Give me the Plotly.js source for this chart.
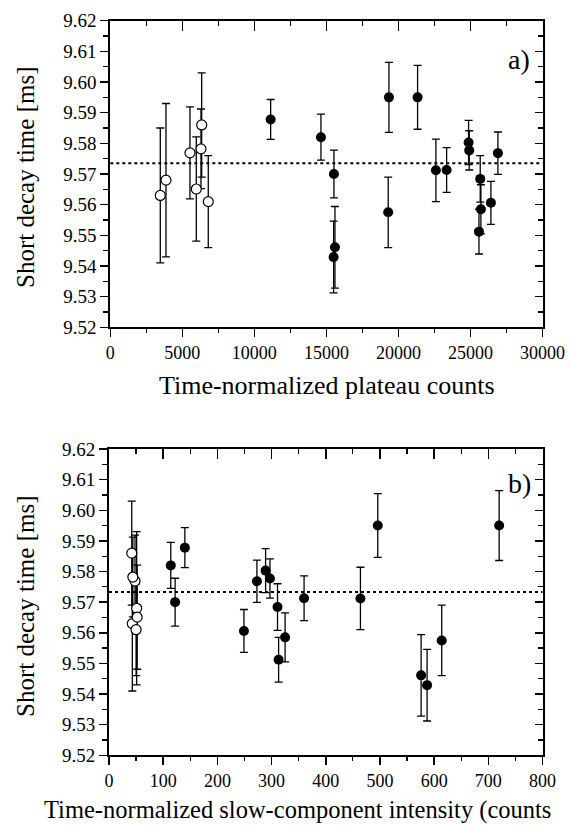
<!DOCTYPE html>
<html><head><meta charset="utf-8">
<script src="https://cdn.plot.ly/plotly-3.0.1.min.js"></script>
<style>html,body{margin:0;padding:0;background:#fff}#chart{width:572px;height:825px}</style>
</head><body><div id="chart"></div>
<script>
// ---- data ----
// open circles
const openPlateau = [3470, 3865, 5531, 5968, 6343, 6294, 6800];
const openSlow    = [43, 51, 48, 52, 42, 44, 50];
const openTau     = [9.5630, 9.5680, 9.5769, 9.5651, 9.5860, 9.5782, 9.5610];
const openErr     = [0.022, 0.025, 0.015, 0.017, 0.017, 0.013, 0.015];
// filled circles
const fillPlateau = [11131, 14622, 15524, 15594, 15500, 19340, 21330, 19290, 22600, 23345, 24870, 24914, 25677, 25725, 25590, 26420, 26905];
const fillSlow    = [140, 114, 122, 576, 587, 720, 496, 614, 464, 360, 289, 297, 311, 325, 313, 249, 273];
const fillTau     = [9.5878, 9.5820, 9.5700, 9.5461, 9.5429, 9.5950, 9.5950, 9.5575, 9.5712, 9.5713, 9.5803, 9.5777, 9.5684, 9.5585, 9.5512, 9.5606, 9.5768];
const fillErr     = [0.0065, 0.0075, 0.0078, 0.0133, 0.0117, 0.0114, 0.0104, 0.0115, 0.0102, 0.0073, 0.0072, 0.0064, 0.0076, 0.0080, 0.0073, 0.0070, 0.0069];
// weighted means (dashed lines)
const meanA = 9.5735;
const meanB = 9.5733;
// axis ranges
const plateauRange = [0, 30000];
const slowRange = [0, 800];
const tauRange = [9.52, 9.62];

const FONT = 'Liberation Serif, Times New Roman, serif';
const W = 572, H = 825;
const xDomA = [110.3 / W, 542.5 / W], yDomA = [1 - 327.3 / H, 1 - 20.7 / H];
const xDomB = [109 / W, 542.5 / W],   yDomB = [1 - 755.3 / H, 1 - 449 / H];

function errTrace(x, y, e, filled, xa, ya) {
  return {
    type: 'scatter', mode: 'markers', x: x, y: y, xaxis: xa, yaxis: ya,
    showlegend: false, cliponaxis: false,
    error_y: { type: 'data', array: e, visible: true, color: '#000', thickness: 1.3, width: 4 },
    marker: { size: 10, color: filled ? '#000' : '#fff', line: { color: '#000', width: filled ? 0 : 1.2 } }
  };
}
const dummy = (xa, ya) => ({ type: 'scatter', x: [], y: [], xaxis: xa, yaxis: ya, showlegend: false, hoverinfo: 'skip' });

const data = [
  errTrace(openPlateau, openTau, openErr, false, 'x', 'y'),
  errTrace(fillPlateau, fillTau, fillErr, true, 'x', 'y'),
  errTrace(openSlow, openTau, openErr, false, 'x2', 'y2'),
  errTrace(fillSlow, fillTau, fillErr, true, 'x2', 'y2'),
  dummy('x3', 'y'), dummy('x', 'y3'), dummy('x4', 'y2'), dummy('x2', 'y4')
];

function xAx(dom, range, dtick, anchor, extra) {
  return Object.assign({
    domain: dom, range: range, anchor: anchor, dtick: dtick, tick0: 0, tickformat: 'd',
    showgrid: false, zeroline: false, fixedrange: true,
    showline: true, linecolor: '#000', linewidth: 2,
    ticks: 'outside', ticklen: 8, tickwidth: 1.5, tickcolor: '#000',
    tickfont: { family: FONT, size: 18, color: '#000' },
    minor: { dtick: dtick / 2, ticks: 'outside', ticklen: 4, tickwidth: 1.3, tickcolor: '#000', showgrid: false }
  }, extra || {});
}
function yAx(dom, anchor, extra) {
  return Object.assign({
    domain: dom, range: tauRange, anchor: anchor, dtick: 0.01, tick0: 9.52, tickformat: '.2f',
    showgrid: false, zeroline: false, fixedrange: true,
    showline: true, linecolor: '#000', linewidth: 2,
    ticks: 'outside', ticklen: 8, tickwidth: 1.5, tickcolor: '#000',
    tickfont: { family: FONT, size: 19, color: '#000' },
    minor: { dtick: 0.005, ticks: 'outside', ticklen: 5, tickwidth: 1.3, tickcolor: '#000', showgrid: false }
  }, extra || {});
}
const mirrorX = { side: 'top', showticklabels: false, ticks: 'inside', ticklen: 10 };
const mirrorY = { side: 'right', showticklabels: false, ticks: 'inside', ticklen: 8 };

const ann = (text, x, y, angle, size, xanchor) => ({
  text: text, x: x, y: y, xref: 'paper', yref: 'paper', showarrow: false,
  textangle: angle || 0, xanchor: xanchor || 'center', yanchor: 'middle',
  font: { family: FONT, size: size, color: '#000' }
});

const layout = {
  width: W, height: H, margin: { l: 0, r: 0, t: 0, b: 0 },
  paper_bgcolor: '#fff', plot_bgcolor: 'rgba(0,0,0,0)', showlegend: false,
  xaxis: xAx(xDomA, plateauRange, 5000, 'y'),
  yaxis: yAx(yDomA, 'x'),
  xaxis3: xAx(xDomA, plateauRange, 5000, 'y', Object.assign({ overlaying: 'x' }, mirrorX, { minor: { dtick: 2500, ticks: 'inside', ticklen: 5, tickwidth: 1.3, tickcolor: '#000' } })),
  yaxis3: yAx(yDomA, 'x', Object.assign({ overlaying: 'y' }, mirrorY, { minor: { dtick: 0.005, ticks: 'inside', ticklen: 5, tickwidth: 1.3, tickcolor: '#000' } })),
  xaxis2: xAx(xDomB, slowRange, 100, 'y2'),
  yaxis2: yAx(yDomB, 'x2'),
  xaxis4: xAx(xDomB, slowRange, 100, 'y2', Object.assign({ overlaying: 'x2' }, mirrorX, { minor: { dtick: 50, ticks: 'inside', ticklen: 5, tickwidth: 1.3, tickcolor: '#000' } })),
  yaxis4: yAx(yDomB, 'x2', Object.assign({ overlaying: 'y2' }, mirrorY, { minor: { dtick: 0.005, ticks: 'inside', ticklen: 5, tickwidth: 1.3, tickcolor: '#000' } })),
  shapes: [
    { type: 'line', xref: 'x domain', yref: 'y', x0: 0, x1: 1, y0: meanA, y1: meanA, line: { color: '#000', width: 2, dash: '3px,3px' } },
    { type: 'line', xref: 'x2 domain', yref: 'y2', x0: 0, x1: 1, y0: meanB, y1: meanB, line: { color: '#000', width: 2, dash: '3px,3px' } }
  ],
  annotations: [
    { text: 'a)', xref: 'x domain', yref: 'y domain', x: 0.945, y: 0.872, xanchor: 'center', yanchor: 'middle', showarrow: false, font: { family: FONT, size: 28, color: '#000' } },
    { text: 'b)', xref: 'x2 domain', yref: 'y2 domain', x: 0.946, y: 0.888, xanchor: 'center', yanchor: 'middle', showarrow: false, font: { family: FONT, size: 28, color: '#000' } },
    ann('Short decay time [ms]', 25 / W, 1 - 178 / H, -90, 25),
    ann('Short decay time [ms]', 25 / W, 1 - 607 / H, -90, 25),
    ann('Time-normalized plateau counts', 327 / W, 1 - 385 / H, 0, 26),
    ann('Time-normalized slow-component intensity (counts', 42 / W, 1 - 810 / H, 0, 24.5, 'left')
  ]
};

Plotly.newPlot('chart', data, layout, { staticPlot: true, displayModeBar: false });
</script>
</body></html>
